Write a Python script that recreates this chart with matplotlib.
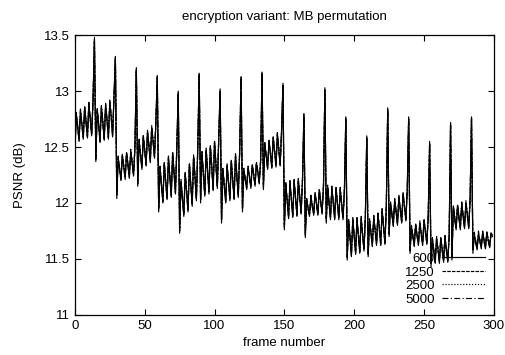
import numpy as np
from matplotlib import pyplot as plt

# PSNR per frame, one list per bitrate setting
psnr_600 = [
    12.45, 12.80, 12.68, 12.55, 12.83, 12.70, 12.57, 12.86, 12.72, 12.58, 12.89, 12.75, 12.60, 12.92, 13.48,
    12.37, 12.84, 12.70, 12.54, 12.86, 12.72, 12.56, 12.88, 12.74, 12.57, 12.91, 12.77, 12.59, 12.95, 13.31,
    12.04, 12.41, 12.30, 12.20, 12.43, 12.32, 12.21, 12.45, 12.34, 12.22, 12.47, 12.36, 12.24, 12.50, 13.21,
    12.15, 12.56, 12.43, 12.30, 12.60, 12.47, 12.33, 12.64, 12.51, 12.36, 12.68, 12.55, 12.40, 12.73, 13.14,
    11.92, 12.32, 12.16, 12.00, 12.36, 12.19, 12.03, 12.41, 12.23, 12.05, 12.45, 12.27, 12.08, 12.50, 13.00,
    11.73, 12.20, 12.04, 11.88, 12.27, 12.10, 11.92, 12.35, 12.16, 11.97, 12.42, 12.23, 12.02, 12.50, 13.16,
    12.00, 12.45, 12.26, 12.06, 12.48, 12.29, 12.08, 12.51, 12.32, 12.11, 12.55, 12.34, 12.13, 12.58, 13.02,
    11.82, 12.30, 12.15, 12.00, 12.34, 12.18, 12.02, 12.38, 12.21, 12.03, 12.43, 12.24, 12.05, 12.47, 13.13,
    11.92, 12.30, 12.21, 12.12, 12.32, 12.23, 12.13, 12.34, 12.25, 12.15, 12.36, 12.27, 12.17, 12.38, 13.17,
    12.12, 12.53, 12.42, 12.30, 12.56, 12.44, 12.31, 12.59, 12.46, 12.32, 12.62, 12.48, 12.33, 12.65, 13.07,
    11.76, 12.18, 12.02, 11.86, 12.19, 12.03, 11.87, 12.20, 12.04, 11.88, 12.21, 12.05, 11.90, 12.22, 12.80,
    11.69, 12.03, 11.95, 11.88, 12.06, 11.97, 11.89, 12.09, 11.99, 11.89, 12.12, 12.01, 11.90, 12.15, 13.03,
    11.82, 12.15, 12.00, 11.85, 12.14, 12.00, 11.85, 12.14, 11.99, 11.85, 12.13, 11.99, 11.85, 12.12, 12.77,
    11.49, 11.85, 11.69, 11.52, 11.86, 11.70, 11.54, 11.86, 11.71, 11.55, 11.87, 11.72, 11.57, 11.88, 12.60,
    11.52, 11.85, 11.73, 11.61, 11.88, 11.75, 11.62, 11.91, 11.77, 11.62, 11.94, 11.79, 11.63, 11.97, 12.85,
    11.70, 12.00, 11.90, 11.79, 12.03, 11.92, 11.80, 12.06, 11.94, 11.82, 12.09, 11.96, 11.84, 12.12, 12.77,
    11.55, 11.79, 11.70, 11.61, 11.81, 11.71, 11.62, 11.83, 11.72, 11.62, 11.85, 11.74, 11.63, 11.88, 12.55,
    11.43, 11.68, 11.57, 11.46, 11.69, 11.58, 11.46, 11.69, 11.58, 11.47, 11.70, 11.58, 11.47, 11.70, 12.72,
    11.49, 11.97, 11.86, 11.76, 11.98, 11.87, 11.76, 12.00, 11.88, 11.77, 12.01, 11.89, 11.77, 12.03, 12.77,
    11.55, 11.72, 11.65, 11.58, 11.73, 11.66, 11.59, 11.74, 11.66, 11.59, 11.74, 11.66, 11.60, 11.73, 11.70,
]
psnr_1250 = [
    12.47, 12.79, 12.69, 12.57, 12.82, 12.71, 12.59, 12.85, 12.73, 12.60, 12.88, 12.76, 12.62, 12.91, 13.45,
    12.40, 12.83, 12.71, 12.56, 12.85, 12.73, 12.58, 12.87, 12.75, 12.59, 12.90, 12.78, 12.61, 12.94, 13.29,
    12.07, 12.40, 12.31, 12.22, 12.42, 12.33, 12.23, 12.44, 12.35, 12.24, 12.46, 12.37, 12.26, 12.49, 13.19,
    12.18, 12.55, 12.44, 12.32, 12.59, 12.48, 12.35, 12.63, 12.52, 12.38, 12.67, 12.56, 12.42, 12.72, 13.12,
    11.95, 12.31, 12.17, 12.02, 12.35, 12.20, 12.05, 12.40, 12.24, 12.07, 12.44, 12.28, 12.10, 12.49, 12.98,
    11.76, 12.19, 12.05, 11.90, 12.26, 12.11, 11.94, 12.34, 12.17, 11.99, 12.41, 12.24, 12.04, 12.49, 13.14,
    12.03, 12.44, 12.27, 12.08, 12.47, 12.30, 12.10, 12.50, 12.33, 12.13, 12.54, 12.35, 12.15, 12.57, 13.00,
    11.85, 12.29, 12.16, 12.02, 12.33, 12.19, 12.04, 12.37, 12.22, 12.05, 12.42, 12.25, 12.07, 12.46, 13.11,
    11.95, 12.29, 12.22, 12.14, 12.31, 12.24, 12.15, 12.33, 12.26, 12.17, 12.35, 12.28, 12.19, 12.37, 13.15,
    12.15, 12.52, 12.43, 12.32, 12.55, 12.45, 12.33, 12.58, 12.47, 12.34, 12.61, 12.49, 12.35, 12.64, 13.05,
    11.79, 12.17, 12.03, 11.88, 12.18, 12.04, 11.89, 12.19, 12.05, 11.90, 12.20, 12.06, 11.92, 12.21, 12.78,
    11.72, 12.02, 11.96, 11.90, 12.05, 11.98, 11.91, 12.08, 12.00, 11.91, 12.11, 12.02, 11.92, 12.14, 13.01,
    11.85, 12.14, 12.01, 11.87, 12.13, 12.01, 11.87, 12.13, 12.00, 11.87, 12.12, 12.00, 11.87, 12.11, 12.75,
    11.52, 11.84, 11.70, 11.54, 11.85, 11.71, 11.56, 11.85, 11.72, 11.57, 11.86, 11.73, 11.59, 11.87, 12.58,
    11.55, 11.84, 11.74, 11.63, 11.87, 11.76, 11.64, 11.90, 11.78, 11.64, 11.93, 11.80, 11.65, 11.96, 12.83,
    11.73, 11.99, 11.91, 11.81, 12.02, 11.93, 11.82, 12.05, 11.95, 11.84, 12.08, 11.97, 11.86, 12.11, 12.75,
    11.58, 11.78, 11.71, 11.63, 11.80, 11.72, 11.64, 11.82, 11.73, 11.64, 11.84, 11.75, 11.65, 11.87, 12.53,
    11.46, 11.67, 11.58, 11.48, 11.68, 11.59, 11.48, 11.68, 11.59, 11.49, 11.69, 11.59, 11.49, 11.69, 12.70,
    11.52, 11.96, 11.87, 11.78, 11.97, 11.88, 11.78, 11.99, 11.89, 11.79, 12.00, 11.90, 11.79, 12.02, 12.75,
    11.58, 11.71, 11.66, 11.60, 11.72, 11.67, 11.61, 11.73, 11.67, 11.61, 11.73, 11.67, 11.62, 11.72, 11.71,
]
psnr_2500 = [
    12.49, 12.78, 12.70, 12.59, 12.81, 12.72, 12.61, 12.84, 12.74, 12.62, 12.87, 12.77, 12.64, 12.90, 13.44,
    12.42, 12.82, 12.72, 12.58, 12.84, 12.74, 12.60, 12.86, 12.76, 12.61, 12.89, 12.79, 12.63, 12.93, 13.28,
    12.09, 12.39, 12.32, 12.24, 12.41, 12.34, 12.25, 12.43, 12.36, 12.26, 12.45, 12.38, 12.28, 12.48, 13.18,
    12.20, 12.54, 12.45, 12.34, 12.58, 12.49, 12.37, 12.62, 12.53, 12.40, 12.66, 12.57, 12.44, 12.71, 13.11,
    11.97, 12.30, 12.18, 12.04, 12.34, 12.21, 12.07, 12.39, 12.25, 12.09, 12.43, 12.29, 12.12, 12.48, 12.97,
    11.78, 12.18, 12.06, 11.92, 12.25, 12.12, 11.96, 12.33, 12.18, 12.01, 12.40, 12.25, 12.06, 12.48, 13.13,
    12.05, 12.43, 12.28, 12.10, 12.46, 12.31, 12.12, 12.49, 12.34, 12.15, 12.53, 12.36, 12.17, 12.56, 12.99,
    11.87, 12.28, 12.17, 12.04, 12.32, 12.20, 12.06, 12.36, 12.23, 12.07, 12.41, 12.26, 12.09, 12.45, 13.10,
    11.97, 12.28, 12.23, 12.16, 12.30, 12.25, 12.17, 12.32, 12.27, 12.19, 12.34, 12.29, 12.21, 12.36, 13.14,
    12.17, 12.51, 12.44, 12.34, 12.54, 12.46, 12.35, 12.57, 12.48, 12.36, 12.60, 12.50, 12.37, 12.63, 13.04,
    11.81, 12.16, 12.04, 11.90, 12.17, 12.05, 11.91, 12.18, 12.06, 11.92, 12.19, 12.07, 11.94, 12.20, 12.77,
    11.74, 12.01, 11.97, 11.92, 12.04, 11.99, 11.93, 12.07, 12.01, 11.93, 12.10, 12.03, 11.94, 12.13, 13.00,
    11.87, 12.13, 12.02, 11.89, 12.12, 12.02, 11.89, 12.12, 12.01, 11.89, 12.11, 12.01, 11.89, 12.10, 12.74,
    11.54, 11.83, 11.71, 11.56, 11.84, 11.72, 11.58, 11.84, 11.73, 11.59, 11.85, 11.74, 11.61, 11.86, 12.57,
    11.57, 11.83, 11.75, 11.65, 11.86, 11.77, 11.66, 11.89, 11.79, 11.66, 11.92, 11.81, 11.67, 11.95, 12.82,
    11.75, 11.98, 11.92, 11.83, 12.01, 11.94, 11.84, 12.04, 11.96, 11.86, 12.07, 11.98, 11.88, 12.10, 12.74,
    11.60, 11.77, 11.72, 11.65, 11.79, 11.73, 11.66, 11.81, 11.74, 11.66, 11.83, 11.76, 11.67, 11.86, 12.52,
    11.48, 11.66, 11.59, 11.50, 11.67, 11.60, 11.50, 11.67, 11.60, 11.51, 11.68, 11.60, 11.51, 11.68, 12.69,
    11.54, 11.95, 11.88, 11.80, 11.96, 11.89, 11.80, 11.98, 11.90, 11.81, 11.99, 11.91, 11.81, 12.01, 12.74,
    11.60, 11.70, 11.67, 11.62, 11.71, 11.68, 11.63, 11.72, 11.68, 11.63, 11.72, 11.68, 11.64, 11.71, 11.72,
]
psnr_5000 = [
    12.46, 12.81, 12.67, 12.56, 12.84, 12.69, 12.58, 12.87, 12.71, 12.59, 12.90, 12.74, 12.61, 12.93, 13.46,
    12.39, 12.85, 12.69, 12.55, 12.87, 12.71, 12.57, 12.89, 12.73, 12.58, 12.92, 12.76, 12.60, 12.96, 13.30,
    12.06, 12.42, 12.29, 12.21, 12.44, 12.31, 12.22, 12.46, 12.33, 12.23, 12.48, 12.35, 12.25, 12.51, 13.20,
    12.17, 12.57, 12.42, 12.31, 12.61, 12.46, 12.34, 12.65, 12.50, 12.37, 12.69, 12.54, 12.41, 12.74, 13.13,
    11.94, 12.33, 12.15, 12.01, 12.37, 12.18, 12.04, 12.42, 12.22, 12.06, 12.46, 12.26, 12.09, 12.51, 12.99,
    11.75, 12.21, 12.03, 11.89, 12.28, 12.09, 11.93, 12.36, 12.15, 11.98, 12.43, 12.22, 12.03, 12.51, 13.15,
    12.02, 12.46, 12.25, 12.07, 12.49, 12.28, 12.09, 12.52, 12.31, 12.12, 12.56, 12.33, 12.14, 12.59, 13.01,
    11.84, 12.31, 12.14, 12.01, 12.35, 12.17, 12.03, 12.39, 12.20, 12.04, 12.44, 12.23, 12.06, 12.48, 13.12,
    11.94, 12.31, 12.20, 12.13, 12.33, 12.22, 12.14, 12.35, 12.24, 12.16, 12.37, 12.26, 12.18, 12.39, 13.16,
    12.14, 12.54, 12.41, 12.31, 12.57, 12.43, 12.32, 12.60, 12.45, 12.33, 12.63, 12.47, 12.34, 12.66, 13.06,
    11.78, 12.19, 12.01, 11.87, 12.20, 12.02, 11.88, 12.21, 12.03, 11.89, 12.22, 12.04, 11.91, 12.23, 12.79,
    11.71, 12.04, 11.94, 11.89, 12.07, 11.96, 11.90, 12.10, 11.98, 11.90, 12.13, 12.00, 11.91, 12.16, 13.02,
    11.84, 12.16, 11.99, 11.86, 12.15, 11.99, 11.86, 12.15, 11.98, 11.86, 12.14, 11.98, 11.86, 12.13, 12.76,
    11.51, 11.86, 11.68, 11.53, 11.87, 11.69, 11.55, 11.87, 11.70, 11.56, 11.88, 11.71, 11.58, 11.89, 12.59,
    11.54, 11.86, 11.72, 11.62, 11.89, 11.74, 11.63, 11.92, 11.76, 11.63, 11.95, 11.78, 11.64, 11.98, 12.84,
    11.72, 12.01, 11.89, 11.80, 12.04, 11.91, 11.81, 12.07, 11.93, 11.83, 12.10, 11.95, 11.85, 12.13, 12.76,
    11.57, 11.80, 11.69, 11.62, 11.82, 11.70, 11.63, 11.84, 11.71, 11.63, 11.86, 11.73, 11.64, 11.89, 12.54,
    11.45, 11.69, 11.56, 11.47, 11.70, 11.57, 11.47, 11.70, 11.57, 11.48, 11.71, 11.57, 11.48, 11.71, 12.71,
    11.51, 11.98, 11.85, 11.77, 11.99, 11.86, 11.77, 12.01, 11.87, 11.78, 12.02, 11.88, 11.78, 12.04, 12.76,
    11.57, 11.74, 11.64, 11.59, 11.75, 11.65, 11.60, 11.75, 11.65, 11.60, 11.75, 11.65, 11.61, 11.74, 11.71,
]
series_labels = ['600', '1250', '2500', '5000']
x_ticks = [0, 50, 100, 150, 200, 250, 300]
y_ticks = [11, 11.5, 12, 12.5, 13, 13.5]
y_ticklabels = ['11', '11.5', '12', '12.5', '13', '13.5']

plt.rcParams['font.family'] = ['Liberation Sans', 'DejaVu Sans']

fig = plt.figure(figsize=(5.06, 3.55), dpi=100)
ax = fig.add_axes([0.148, 0.113, 0.828, 0.788])

frames = np.arange(len(psnr_600))
styles = ['-', (0, (3, 1)), (0, (1, 1.5)), (0, (5, 2, 1, 2))]
for vals, lab, ls in zip([psnr_600, psnr_1250, psnr_2500, psnr_5000], series_labels, styles):
    ax.plot(frames, vals, color='black', linestyle=ls, linewidth=0.85, label=lab)

ax.set_xlim(0, 300)
ax.set_ylim(11, 13.5)
ax.set_xticks(x_ticks)
ax.set_yticks(y_ticks)
ax.set_yticklabels(y_ticklabels)
ax.tick_params(direction='in', top=True, right=True, labelsize=9.5, length=4, width=0.8)
for s in ax.spines.values():
    s.set_linewidth(0.9)

ax.set_title('encryption variant: MB permutation', fontsize=9.5, pad=11)
ax.set_xlabel('frame number', fontsize=9.5, labelpad=4)
ax.set_ylabel('PSNR (dB)', fontsize=9.5, labelpad=13)

ax.legend(loc='lower right', frameon=False, markerfirst=False, fontsize=9.5,
          handlelength=3.2, labelspacing=0.1, borderaxespad=0.3, handletextpad=0.6)

fig.savefig('out.png', dpi=100)
